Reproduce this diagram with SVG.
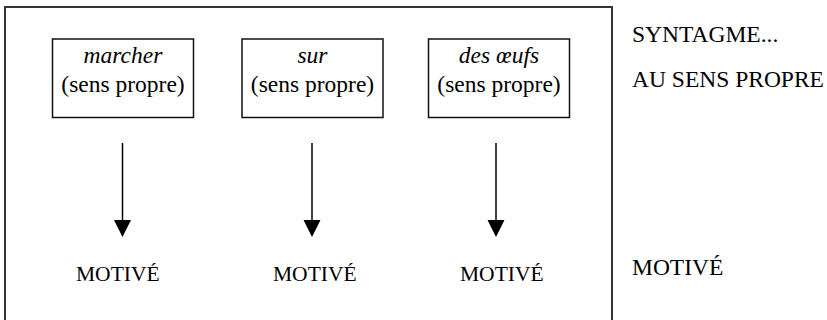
<svg xmlns="http://www.w3.org/2000/svg" width="827" height="320" viewBox="0 0 827 320">
<style>
  .t { font-family: 'Liberation Serif', 'Times New Roman', Times, 'DejaVu Serif', serif; fill: #000; }
  .w { font-size: 23.5px; font-style: italic; text-anchor: middle; }
  .s { font-size: 23.5px; text-anchor: middle; }
  .m { font-size: 21.5px; }
  .r { font-size: 23.5px; }
  .box { fill: #fff; stroke: #111; stroke-width: 1.5; }
  .frame { fill: none; stroke: #333; stroke-width: 2; }
  .conn line { stroke: #000; stroke-width: 1.5; }
</style>
<rect class="frame" x="5" y="7" width="607" height="330"/>
<g id="n1" class="t" font-family="Liberation Serif, serif">
  <rect class="box" x="52.5" y="39" width="141" height="78.5"/>
  <text class="w" x="123" y="63">marcher</text>
  <text class="s" x="123" y="92">(sens propre)</text>
</g>
<g id="n2" class="t" font-family="Liberation Serif, serif">
  <rect class="box" x="242" y="39" width="141" height="78.5"/>
  <text class="w" x="312.5" y="63">sur</text>
  <text class="s" x="312.5" y="92">(sens propre)</text>
</g>
<g id="n3" class="t" font-family="Liberation Serif, serif">
  <rect class="box" x="428.5" y="39" width="141" height="78.5"/>
  <text class="w" x="499" y="63">des œufs</text>
  <text class="s" x="499" y="92">(sens propre)</text>
</g>
<g id="m1" class="t" font-family="Liberation Serif, serif"><text class="m" x="76" y="281">MOTIVÉ</text></g>
<g id="m2" class="t" font-family="Liberation Serif, serif"><text class="m" x="273" y="281">MOTIVÉ</text></g>
<g id="m3" class="t" font-family="Liberation Serif, serif"><text class="m" x="460" y="281">MOTIVÉ</text></g>
<g id="labels" class="t" font-family="Liberation Serif, serif">
  <text class="r" x="632" y="42">SYNTAGME...</text>
  <text class="r" x="632" y="87">AU SENS PROPRE</text>
  <text class="r" x="632" y="275">MOTIVÉ</text>
</g>
<g class="conn" id="connectors">
  <line x1="122.5" y1="143" x2="122.5" y2="222"/>
  <polygon points="114,220 131,220 122.5,237"/>
  <line x1="312" y1="143" x2="312" y2="222"/>
  <polygon points="303.5,220 320.5,220 312,237"/>
  <line x1="496" y1="143" x2="496" y2="222"/>
  <polygon points="487.5,220 504.5,220 496,237"/>
</g>
</svg>
